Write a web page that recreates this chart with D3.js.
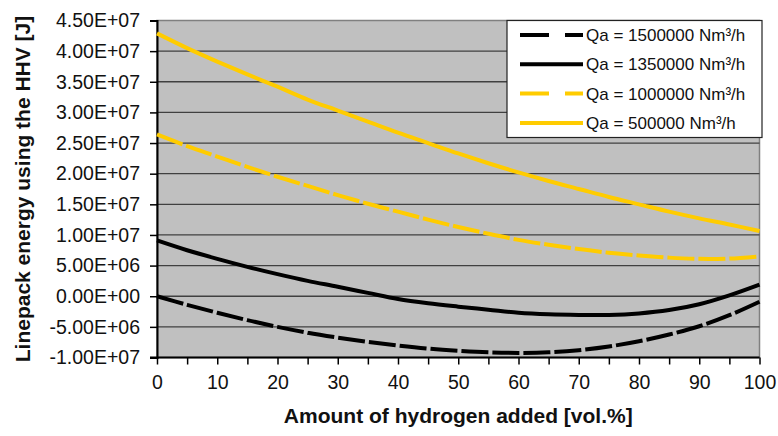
<!DOCTYPE html>
<html>
<head>
<meta charset="utf-8">
<script src="https://d3js.org/d3.v7.min.js"></script>
<style>
  body { margin: 0; background: #fff; }
  svg { display: block; font-family: "Liberation Sans", Arial, sans-serif; }
</style>
</head>
<body>
<svg id="chart" width="778" height="436"></svg>
<script>
// hydrogen added [vol.%]
const hydrogen = [0, 5, 10, 15, 20, 25, 30, 35, 40, 45, 50, 55, 60, 65, 70, 75, 80, 85, 90, 95, 100]

// linepack energy (x 1e6 J)
const qa1500000 = [0, -1.4, -2.7, -3.9, -5.0, -5.95, -6.75, -7.45, -8.05, -8.55, -8.9, -9.15, -9.25, -9.15, -8.8, -8.2, -7.35, -6.25, -4.9, -3.1, -0.9]
const qa1350000 = [9.1, 7.5, 6.1, 4.8, 3.6, 2.5, 1.55, 0.55, -0.45, -1.15, -1.7, -2.2, -2.7, -2.95, -3.05, -3.05, -2.8, -2.25, -1.3, 0.15, 1.9]
const qa1000000 = [26.4, 24.5, 22.8, 21.1, 19.5, 18.0, 16.5, 15.1, 13.8, 12.5, 11.3, 10.2, 9.2, 8.4, 7.7, 7.1, 6.65, 6.3, 6.1, 6.15, 6.5]
const qa500000 = [42.9, 40.5, 38.3, 36.2, 34.2, 32.1, 30.3, 28.5, 26.7, 25.0, 23.3, 21.7, 20.2, 18.8, 17.5, 16.2, 15.0, 13.8, 12.7, 11.7, 10.65]

const seriesNames = ["Qa = 1500000 Nm³/h", "Qa = 1350000 Nm³/h", "Qa = 1000000 Nm³/h", "Qa = 500000 Nm³/h"]
const seriesValues = [qa1500000, qa1350000, qa1000000, qa500000]
const seriesColours = ["#000000", "#000000", "#ffcc00", "#ffcc00"]
const seriesDashed = [true, false, true, false]

const yTicks = [-1e7, -5e6, 0, 5e6, 1e7, 1.5e7, 2e7, 2.5e7, 3e7, 3.5e7, 4e7, 4.5e7]
const xTicks = [0, 10, 20, 30, 40, 50, 60, 70, 80, 90, 100]
const xMinorTicks = [0, 5, 10, 15, 20, 25, 30, 35, 40, 45, 50, 55, 60, 65, 70, 75, 80, 85, 90, 95, 100]

const plotLeft = 157, plotRight = 759.5, plotTop = 20.5, plotBottom = 357.5

var svg = d3.select("#chart")

var x = d3.scaleLinear().domain([0, 100]).range([plotLeft, plotRight])
var y = d3.scaleLinear().domain([-1e7, 4.5e7]).range([plotBottom, plotTop])

// excel style labels, e.g. 4.50E+07
function sci(v){
    var s = v.toExponential(2).toUpperCase()
    var parts = s.split("E")
    var sign = parts[1][0]
    var exp = parts[1].slice(1)
    if(exp.length < 2) exp = "0" + exp
    return parts[0] + "E" + sign + exp
}

// plot area
svg.append("rect")
    .attr("x", plotLeft)
    .attr("y", plotTop)
    .attr("width", plotRight - plotLeft)
    .attr("height", plotBottom - plotTop)
    .attr("fill", "#c0c0c0")
    .attr("stroke", "#808080")
    .attr("stroke-width", 1.5)

// gridlines
svg.append("g")
    .selectAll("line")
    .data(yTicks.filter(d => d > -1e7 && d < 4.5e7))
    .join("line")
    .attr("x1", plotLeft)
    .attr("x2", plotRight)
    .attr("y1", d => y(d))
    .attr("y2", d => y(d))
    .attr("stroke", "#404040")
    .attr("stroke-width", 1.3)

// y axis
var yAxis = svg.append("g")
    .attr("transform", "translate(" + plotLeft + ",0)")
    .call(d3.axisLeft(y).tickValues(yTicks).tickFormat(sci).tickSize(7).tickPadding(10))
yAxis.select(".domain").attr("stroke", "#000").attr("stroke-width", 2)
yAxis.selectAll(".tick line").attr("stroke", "#000").attr("stroke-width", 1.5)
yAxis.selectAll(".tick text")
    .attr("font-size", "19.5px")
    .attr("font-family", "Liberation Sans, Arial, sans-serif")
    .attr("fill", "#111")

// x axis, small ticks every 5, labels every 10
var xAxis = svg.append("g")
    .attr("transform", "translate(0," + plotBottom + ")")
    .call(d3.axisBottom(x).tickValues(xMinorTicks).tickFormat(d => xTicks.includes(d) ? d : "").tickSize(7).tickPadding(11))
xAxis.select(".domain").attr("stroke", "#000").attr("stroke-width", 2).attr("d", "M" + (plotLeft - 7) + ",0H" + plotRight)
xAxis.selectAll(".tick line").attr("stroke", "#000").attr("stroke-width", 1.5)
xAxis.selectAll(".tick text")
    .attr("font-size", "19.5px")
    .attr("font-family", "Liberation Sans, Arial, sans-serif")
    .attr("fill", "#111")

// series
var line = d3.line()
    .x((d, i) => x(hydrogen[i]))
    .y(d => y(d * 1e6))
    .curve(d3.curveCatmullRom)

seriesValues.forEach((vals, index)=>{
    svg.append("path")
        .attr("d", line(vals))
        .attr("fill", "none")
        .attr("stroke", seriesColours[index])
        .attr("stroke-width", 4)
        .attr("stroke-dasharray", seriesDashed[index] ? "27 4" : null)
})

// legend
var legend = svg.append("g")
legend.append("rect")
    .attr("x", 507)
    .attr("y", 20.5)
    .attr("width", 255)
    .attr("height", 117)
    .attr("fill", "#fff")
    .attr("stroke", "#222")
    .attr("stroke-width", 1.2)

seriesNames.forEach((name, index)=>{
    var ly = 35 + index * 29.3
    legend.append("line")
        .attr("x1", 520)
        .attr("x2", 583)
        .attr("y1", ly)
        .attr("y2", ly)
        .attr("stroke", seriesColours[index])
        .attr("stroke-width", 4)
        .attr("stroke-dasharray", seriesDashed[index] ? "29 16" : null)
    legend.append("text")
        .attr("x", 586)
        .attr("y", ly + 6)
        .attr("font-size", "17px")
        .attr("fill", "#111")
        .text(name)
})

// axis titles
svg.append("text")
    .attr("transform", "translate(30," + ((plotTop + plotBottom) / 2) + ") rotate(-90)")
    .attr("text-anchor", "middle")
    .attr("font-size", "21px")
    .attr("font-weight", "bold")
    .attr("fill", "#111")
    .text("Linepack energy using the HHV [J]")

svg.append("text")
    .attr("x", (plotLeft + plotRight) / 2)
    .attr("y", 423)
    .attr("text-anchor", "middle")
    .attr("font-size", "21px")
    .attr("font-weight", "bold")
    .attr("fill", "#111")
    .text("Amount of hydrogen added [vol.%]")
</script>
</body>
</html>
